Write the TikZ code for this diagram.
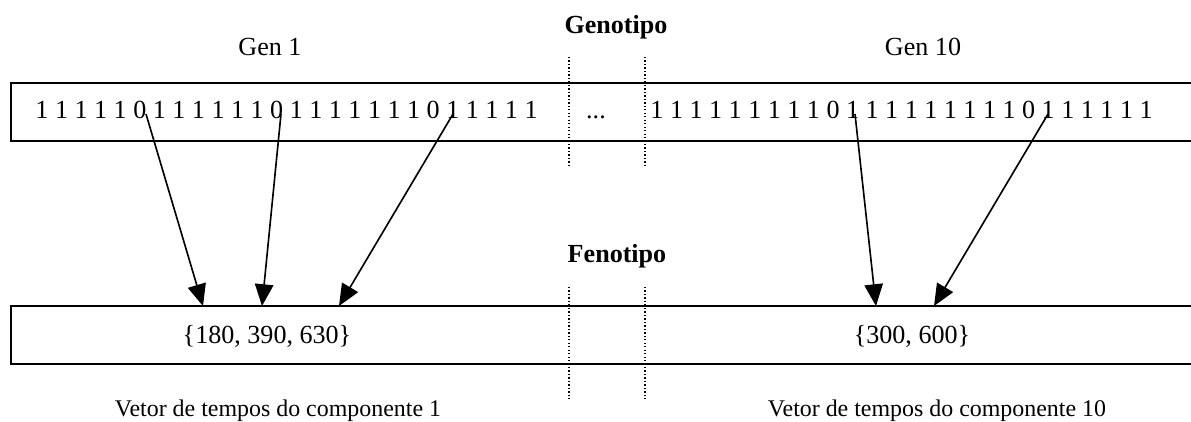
\documentclass[tikz,border=0pt]{standalone}
\usepackage{fontspec}
\setmainfont{Liberation Serif}
\usetikzlibrary{arrows.meta}

\tikzset{
  caixa/.style={line width=0.7pt},
  pontilhado/.style={densely dotted, line width=0.6pt},
  seta/.style={line width=0.75pt, -{Triangle[length=10pt,width=8.5pt]}},
  rotulo/.style={inner sep=0pt, anchor=base, font=\fontsize{12}{14}\selectfont},
  titulo/.style={rotulo, font=\fontsize{12}{14}\selectfont\bfseries},
  legenda/.style={rotulo, font=\fontsize{11}{13}\selectfont},
}

\begin{document}
\begin{tikzpicture}[x=0.46pt, y=-0.46pt]
\useasboundingbox (0,0) rectangle (1191,421);

% genotipo
\node[titulo] (geno) at (616,33) {Genotipo};
\node[rotulo] (gen1) at (270,55) {Gen 1};
\node[rotulo] (gen10) at (923,55) {Gen 10};
\draw[caixa] (11,83) rectangle (1200,141);
\node[rotulo, anchor=base west] (bits1) at (35,118) {1 1 1 1 1 0 1 1 1 1 1 1 0 1 1 1 1 1 1 1 0 1 1 1 1 1};
\node[rotulo] (reticencias) at (596,118) {...};
\node[rotulo, anchor=base west] (bits10) at (650,118) {1 1 1 1 1 1 1 1 1 0 1 1 1 1 1 1 1 1 1 0 1 1 1 1 1 1};
\draw[pontilhado] (569,57) -- (569,168);
\draw[pontilhado] (645,57) -- (645,168);

% fenotipo
\node[titulo] (feno) at (617,262) {Fenotipo};
\draw[caixa] (11,306) rectangle (1200,364);
\node[rotulo] (vet1) at (267,343) {\{180, 390, 630\}};
\node[rotulo] (vet10) at (912,343) {\{300, 600\}};
\draw[pontilhado] (569,287) -- (569,399);
\draw[pontilhado] (645,287) -- (645,399);
\node[legenda] (comp1) at (278,416) {Vetor de tempos do componente 1};
\node[legenda] (comp10) at (937,416) {Vetor de tempos do componente 10};

% zeros -> tempos
\coordinate (z1) at (146,114);
\coordinate (z2) at (281,114);
\coordinate (z3) at (453,114);
\coordinate (z4) at (855,114);
\coordinate (z5) at (1048,114);
\coordinate (t1) at (203,306);
\coordinate (t2) at (262,306);
\coordinate (t3) at (339,306);
\coordinate (t4) at (876,306);
\coordinate (t5) at (934,306);
\draw[seta] (z1) -- (t1);
\draw[seta] (z2) -- (t2);
\draw[seta] (z3) -- (t3);
\draw[seta] (z4) -- (t4);
\draw[seta] (z5) -- (t5);

\end{tikzpicture}
\end{document}
